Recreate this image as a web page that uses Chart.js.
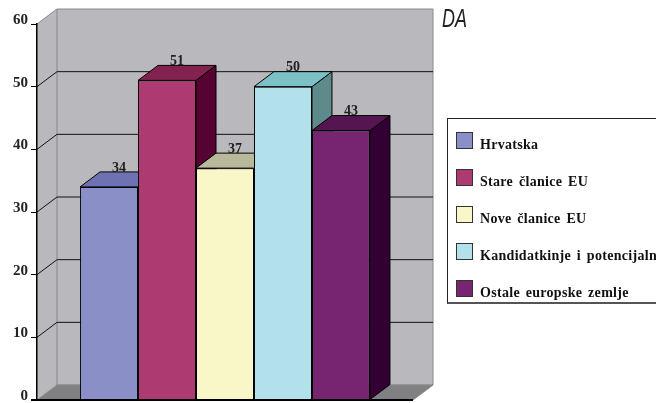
<!DOCTYPE html>
<html>
<head>
<meta charset="utf-8">
<script src="https://cdn.jsdelivr.net/npm/chart.js@4"></script>
<style>
  html, body { margin: 0; padding: 0; background: #fff; }
  #wrap { position: relative; width: 656px; height: 403px; overflow: hidden; }
  #note { position: absolute; left: 442px; top: 4px; font: italic 25px "Liberation Sans", sans-serif; color: #222;
          transform: scaleX(0.72); transform-origin: left top; }
  #legend { position: absolute; left: 447px; top: 118px; width: 220px; height: 186px; box-sizing: border-box;
            border: 1px solid #222; border-bottom: 2px solid #555; }
  .row { position: absolute; left: 8px; height: 17px; white-space: nowrap; font: bold 14px "Liberation Serif", serif; color: #111; }
  .swatch { position: absolute; left: 0; top: 0; width: 15px; height: 15px; border: 1px solid #333; }
  .name { position: absolute; left: 24px; top: 4px; line-height: 17px; letter-spacing: 0.3px; word-spacing: 2px; }
</style>
</head>
<body>
<div id="wrap">
  <canvas id="chart" width="656" height="403"></canvas>
  <div id="note">DA</div>
  <div id="legend"></div>
</div>
<script>
const categories = [''];
const seriesNames = ['Hrvatska', 'Stare članice EU', 'Nove članice EU', 'Kandidatkinje i potencijaln', 'Ostale europske zemlje'];
const seriesValues = [34, 51, 37, 50, 43];
const frontColors = ['#8b8fc7', '#ae3a72', '#f9f6c8', '#b2e1ec', '#772570'];
const topColors = ['#6e72b3', '#83224f', '#b7b99a', '#7cc1c6', '#551550'];
const sideColors = ['#4d5090', '#560333', '#a0a080', '#5e8a8c', '#330033'];
const yTicks = [0, 10, 20, 30, 40, 50, 60];

// depth of the fake 3d box
const DX = 20, DY = 15;

function poly(ctx, pts, fill, stroke) {
  ctx.beginPath();
  pts.forEach((p, i) => i ? ctx.lineTo(p[0], p[1]) : ctx.moveTo(p[0], p[1]));
  ctx.closePath();
  if (fill) { ctx.fillStyle = fill; ctx.fill(); }
  if (stroke) { ctx.strokeStyle = stroke; ctx.lineWidth = 1; ctx.stroke(); }
}

const box3d = {
  id: 'box3d',
  beforeDraw(chart) {
    const ctx = chart.ctx, a = chart.chartArea, y = chart.scales.y;
    const wall = '#b9b9bd', edge = '#88888b';
    ctx.save();
    poly(ctx, [[a.left, a.top], [a.left + DX, a.top - DY], [a.left + DX, a.bottom - DY], [a.left, a.bottom]], wall);
    poly(ctx, [[a.left + DX, a.top - DY], [a.right + DX, a.top - DY], [a.right + DX, a.bottom - DY], [a.left + DX, a.bottom - DY]], wall, edge);
    poly(ctx, [[a.left, a.bottom], [a.left + DX, a.bottom - DY], [a.right + DX, a.bottom - DY], [a.right, a.bottom]], '#808083', edge);
    ctx.strokeStyle = edge;
    ctx.beginPath();
    ctx.moveTo(a.left, a.top);
    ctx.lineTo(a.left + DX, a.top - DY);
    ctx.stroke();
    ctx.strokeStyle = '#111';
    yTicks.slice(1, -1).forEach(v => {
      const py = y.getPixelForValue(v);
      ctx.beginPath();
      ctx.moveTo(a.left, py);
      ctx.lineTo(a.left + DX, py - DY);
      ctx.lineTo(a.right + DX, py - DY);
      ctx.stroke();
    });
    ctx.restore();
  },
  // chart.js paints the last dataset first, which gets the 3d overlap wrong,
  // so skip its pass and paint the bars left to right below
  beforeDatasetDraw() {
    return false;
  },
  afterDatasetsDraw(chart) {
    const ctx = chart.ctx, a = chart.chartArea;
    ctx.save();
    ctx.lineJoin = 'round';
    chart.data.datasets.forEach((ds, i) => {
      const bar = chart.getDatasetMeta(i).data[0];
      const l = bar.x - bar.width / 2, r = bar.x + bar.width / 2, t = bar.y, b = bar.base;
      poly(ctx, [[r, t], [r + DX, t - DY], [r + DX, b - DY], [r, b]], sideColors[i], '#000');
      poly(ctx, [[l, t], [l + DX, t - DY], [r + DX, t - DY], [r, t]], topColors[i], '#000');
      bar.draw(ctx, a);
    });
    ctx.strokeStyle = '#000';
    ctx.lineWidth = 2;
    ctx.beginPath();
    ctx.moveTo(a.left - 6, a.bottom);
    ctx.lineTo(a.right, a.bottom);
    ctx.stroke();
    ctx.fillStyle = '#222';
    ctx.font = 'bold 14px "Liberation Serif", serif';
    ctx.textAlign = 'center';
    ctx.textBaseline = 'middle';
    chart.data.datasets.forEach((ds, i) => {
      const bar = chart.getDatasetMeta(i).data[0];
      ctx.fillText(ds.data[0], bar.x + 10, bar.y - 19);
    });
    ctx.restore();
  }
};

new Chart(document.getElementById('chart'), {
  type: 'bar',
  plugins: [box3d],
  data: {
    labels: categories,
    datasets: seriesNames.map((name, i) => ({
      label: name,
      data: [seriesValues[i]],
      backgroundColor: frontColors[i],
      borderColor: '#000',
      borderWidth: 1
    }))
  },
  options: {
    responsive: false,
    animation: false,
    devicePixelRatio: 1,
    layout: { padding: { top: 24, bottom: 3, right: 243, left: 0 } },
    plugins: { legend: { display: false }, tooltip: { enabled: false } },
    datasets: { bar: { categoryPercentage: 0.771, barPercentage: 1 } },
    scales: {
      x: { display: false },
      y: {
        min: 0,
        max: 60,
        afterFit(s) { s.width = 37; s.paddingTop = 0; s.paddingBottom = 0; },
        afterBuildTicks(s) { s.ticks = yTicks.map(v => ({ value: v })); },
        border: { display: true, color: '#000', width: 1.5 },
        grid: { drawOnChartArea: false, drawTicks: true, tickLength: 6, color: '#000' },
        ticks: {
          padding: 3,
          labelOffset: -4,
          color: '#222',
          font: { family: '"Liberation Serif", serif', size: 15, weight: 'bold' }
        }
      }
    }
  }
});

const legend = document.getElementById('legend');
seriesNames.forEach((name, i) => {
  const row = document.createElement('div');
  row.className = 'row';
  row.style.top = (13 + i * 37) + 'px';
  const sw = document.createElement('div');
  sw.className = 'swatch';
  sw.style.background = frontColors[i];
  const txt = document.createElement('div');
  txt.className = 'name';
  txt.textContent = name;
  row.appendChild(sw);
  row.appendChild(txt);
  legend.appendChild(row);
});
</script>
</body>
</html>
